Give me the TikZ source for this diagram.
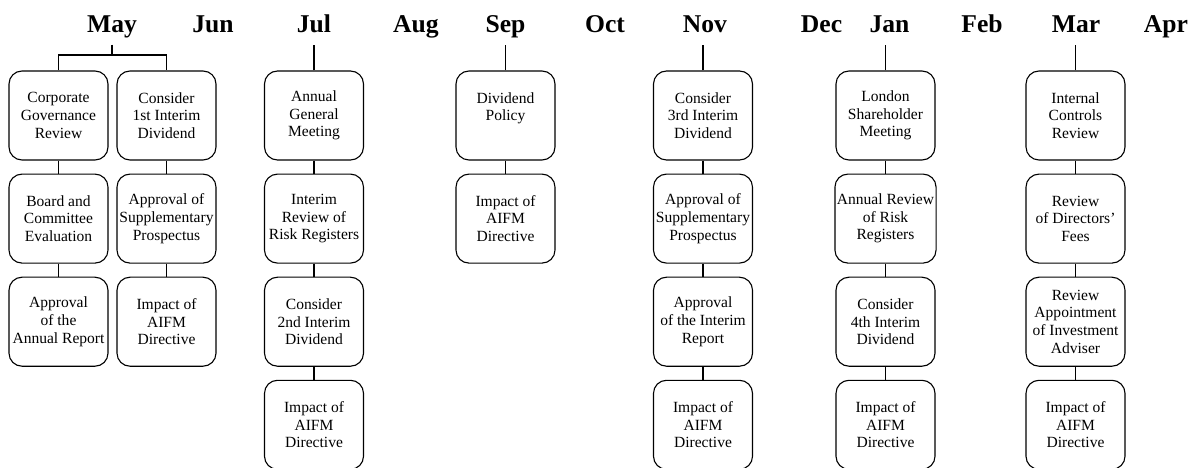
\documentclass[tikz,border=0pt]{standalone}
\usepackage{fontspec}
\setmainfont{Liberation Serif}
\usepackage{tikz}
\usetikzlibrary{positioning}

\begin{document}
\begin{tikzpicture}[
    x=1bp, y=-1bp,
    month/.style={font=\fontsize{25.7}{30}\selectfont\bfseries, anchor=base, text depth=6bp, inner sep=5bp},
    item/.style={draw, rounded corners=13bp, minimum width=99bp, minimum height=89bp,
                 inner sep=2bp, align=center, font=\fontsize{15.6}{17.7}\selectfont},
    node distance=13bp,
    line width=1.1bp
]
\useasboundingbox (0,0) rectangle (1195,468);

% months
\node[month] (may) at (112,33) {May};
\node[month] (jun) at (213,33) {Jun};
\node[month] (jul) at (314,33) {Jul};
\node[month] (aug) at (416,33) {Aug};
\node[month] (sep) at (505.5,33) {Sep};
\node[month] (oct) at (605,33) {Oct};
\node[month] (nov) at (705,33) {Nov};
\node[month] (dec) at (821.5,33) {Dec};
\node[month] (jan) at (889.5,33) {Jan};
\node[month] (feb) at (982,33) {Feb};
\node[month] (mar) at (1076,33) {Mar};
\node[month] (apr) at (1166,33) {Apr};

% May
\node[item] (a1) at (58.5,115.5) {Corporate\\Governance\\Review};
\node[item, below=of a1] (a2) {Board and\\Committee\\Evaluation};
\node[item, below=of a2] (a3) {Approval\\of the\\Annual Report};
\node[item] (b1) at (166.5,115.5) {Consider\\1st Interim\\Dividend};
\node[item, below=of b1] (b2) {Approval of\\Supplementary\\Prospectus};
\node[item, below=of b2] (b3) {Impact of\\AIFM\\Directive};
\coordinate (fork) at (112,55);

% Jul
\node[item] (c1) at (314,115.5) {Annual\\General\\Meeting};
\node[item, below=of c1] (c2) {Interim\\Review of\\Risk Registers};
\node[item, below=of c2] (c3) {Consider\\2nd Interim\\Dividend};
\node[item, below=of c3] (c4) {Impact of\\AIFM\\Directive};

% Sep
\node[item] (d1) at (505.5,115.5) {Dividend\\Policy\\~};
\node[item, below=of d1] (d2) {Impact of\\AIFM\\Directive};

% Nov
\node[item] (e1) at (703,115.5) {Consider\\3rd Interim\\Dividend};
\node[item, below=of e1] (e2) {Approval of\\Supplementary\\Prospectus};
\node[item, below=of e2] (e3) {Approval\\of the Interim\\Report};
\node[item, below=of e3] (e4) {Impact of\\AIFM\\Directive};

% Jan
\node[item] (f1) at (885.5,115.5) {London\\Shareholder\\Meeting};
\node[item, below=of f1] (f2) {Annual Review\\of Risk\\Registers};
\node[item, below=of f2] (f3) {Consider\\4th Interim\\Dividend};
\node[item, below=of f3] (f4) {Impact of\\AIFM\\Directive};

% Mar
\node[item] (g1) at (1075.5,115.5) {Internal\\Controls\\Review};
\node[item, below=of g1] (g2) {Review\\of Directors'\\Fees};
\node[item, below=of g2] (g3) {Review\\Appointment\\of Investment\\Adviser};
\node[item, below=of g3] (g4) {Impact of\\AIFM\\Directive};

% links
\draw (may.south) -- (fork);
\draw (a1.north) |- (fork) -| (b1.north);
\draw (c1.north) -- (c1.north |- jul.south);
\draw (d1.north) -- (d1.north |- sep.south);
\draw (e1.north) -- (e1.north |- nov.south);
\draw (f1.north) -- (f1.north |- jan.south);
\draw (g1.north) -- (g1.north |- mar.south);
\foreach \c/\n in {a/3, b/3, c/4, d/2, e/4, f/4, g/4} {
    \foreach \i [evaluate=\i as \j using int(\i+1)] in {1,...,\n} {
        \ifnum\i<\n
            \draw (\c\i.south) -- (\c\j.north);
        \fi
    }
}

\end{tikzpicture}
\end{document}
